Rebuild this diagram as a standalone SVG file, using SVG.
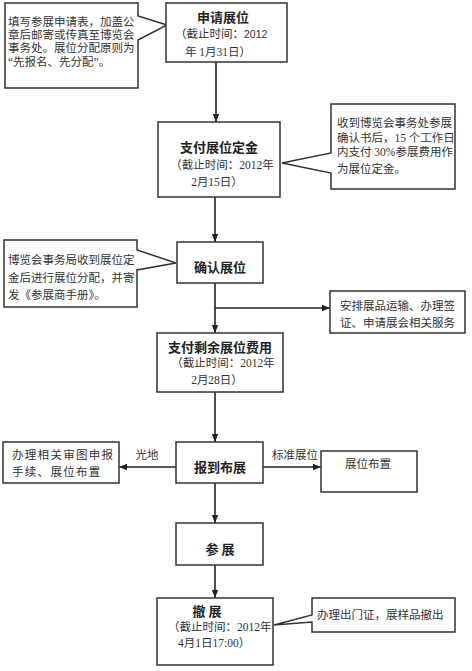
<svg xmlns="http://www.w3.org/2000/svg" width="472" height="671" viewBox="0 0 472 671">
<style>
.box{fill:#fff;stroke:#333;stroke-width:1.5}
.ln{fill:none;stroke:#222;stroke-width:1.6}
.t{font-family:"Liberation Serif","Noto Sans CJK SC",serif;font-size:11.5px;fill:#333}
.h{font-family:"Noto Sans CJK SC","Liberation Sans",sans-serif;font-size:13px;font-weight:bold;fill:#222;text-anchor:middle}
.m{text-anchor:middle}
</style>
<defs>
<marker id="ar" viewBox="0 0 8 8" refX="8" refY="4" markerWidth="8" markerHeight="8" markerUnits="userSpaceOnUse" orient="auto">
<path d="M0,0.8 L8,4 L0,7.2 Z" fill="#222"/>
</marker>
</defs>
<rect width="472" height="671" fill="#fff"/>
<g id="connectors">
<line class="ln" x1="216" y1="62" x2="216" y2="122" marker-end="url(#ar)"/>
<line class="ln" x1="215" y1="197" x2="215" y2="242" marker-end="url(#ar)"/>
<line class="ln" x1="215" y1="283" x2="215" y2="333" marker-end="url(#ar)"/>
<line class="ln" x1="215" y1="308" x2="330" y2="308" stroke-width="1.2" marker-end="url(#ar)"/>
<line class="ln" x1="215" y1="392" x2="215" y2="442" marker-end="url(#ar)"/>
<line class="ln" x1="176" y1="467" x2="119" y2="467" stroke-width="1.2" marker-end="url(#ar)"/>
<line class="ln" x1="263" y1="467" x2="321" y2="467" stroke-width="1.2" marker-end="url(#ar)"/>
<line class="ln" x1="215" y1="483" x2="215" y2="523" marker-end="url(#ar)"/>
<line class="ln" x1="215" y1="565" x2="215" y2="598" marker-end="url(#ar)"/>
<text class="t m" x="147" y="459">光地</text>
<text class="t m" x="295" y="459">标准展位</text>
</g>
<g id="callout1">
<path class="box" d="M5,3 H138 V16 L167,25 L138,40 V88 H5 Z"/>
<text class="t" x="8" y="26">填写参展申请表，加盖公</text>
<text class="t" x="8" y="39">章后邮寄或传真至博览会</text>
<text class="t" x="8" y="52">事务处。展位分配原则为</text>
<text class="t" x="8" y="66">“先报名、先分配”。</text>
</g>
<g id="n1">
<rect class="box" x="166" y="3" width="121" height="59"/>
<text class="h" x="223" y="22">申请展位</text>
<text class="t" x="175" y="38">（截止时间：<tspan font-family="Liberation Sans" font-size="10.5">2012</tspan></text>
<text class="t" x="185" y="56">年 1月31日）</text>
</g>
<g id="n2">
<rect class="box" x="158" y="122" width="122" height="75"/>
<text class="h" x="219" y="152">支付展位定金</text>
<text class="t m" x="222" y="169">（截止时间：2012年</text>
<text class="t m" x="217" y="186">2月15日）</text>
</g>
<g id="callout2">
<path class="box" d="M331,104 H455 V189 H331 V173 L282,163 L331,153 Z"/>
<text class="t" x="337" y="127">收到博览会事务处参展</text>
<text class="t" x="337" y="142">确认书后，15 个工作日</text>
<text class="t" x="337" y="156">内支付 30%参展费用作</text>
<text class="t" x="337" y="173">为展位定金。</text>
</g>
<g id="callout3">
<path class="box" d="M4,240 H137 V250 L176,263 L137,270 V307 H4 Z"/>
<text class="t" x="8" y="264">博览会事务局收到展位定</text>
<text class="t" x="8" y="282">金后进行展位分配，并寄</text>
<text class="t" x="8" y="299">发《参展商手册》。</text>
</g>
<g id="n3">
<rect class="box" x="177" y="242" width="86" height="41"/>
<text class="h" x="220" y="272">确认展位</text>
</g>
<g id="side3">
<rect class="box" x="330" y="291" width="135" height="42"/>
<text class="t" x="340" y="310">安排展品运输、办理签</text>
<text class="t" x="340" y="327">证、申请展会相关服务</text>
</g>
<g id="n4">
<rect class="box" x="157" y="333" width="126" height="59"/>
<text class="h" x="220" y="352">支付剩余展位费用</text>
<text class="t m" x="223" y="367">（截止时间：2012年</text>
<text class="t m" x="217" y="384">2月28日）</text>
</g>
<g id="n5">
<rect class="box" x="176" y="442" width="87" height="41"/>
<text class="h" x="220" y="472">报到布展</text>
</g>
<g id="left5">
<rect class="box" x="3" y="442" width="116" height="41"/>
<text class="t" x="12" y="459" letter-spacing="1.3">办理相关审图申报</text>
<text class="t" x="12" y="476" letter-spacing="1.3">手续、展位布置</text>
</g>
<g id="right5">
<rect class="box" x="321" y="451" width="96" height="41"/>
<text class="t m" x="368" y="468">展位布置</text>
</g>
<g id="n6">
<rect class="box" x="176" y="523" width="87" height="42"/>
<text class="h" x="220" y="554">参 展</text>
</g>
<g id="n7">
<rect class="box" x="157" y="598" width="116" height="67"/>
<text class="h" x="207" y="616">撤 展</text>
<text class="t" x="168" y="631">（截止时间：2012年</text>
<text class="t" x="178" y="647">4月1日17:00）</text>
</g>
<g id="callout7">
<path class="box" d="M312,598 H455 V632 H312 V622 L274,625 L312,615 Z"/>
<text class="t" x="317" y="619">办理出门证，展样品撤出</text>
</g>
</svg>
